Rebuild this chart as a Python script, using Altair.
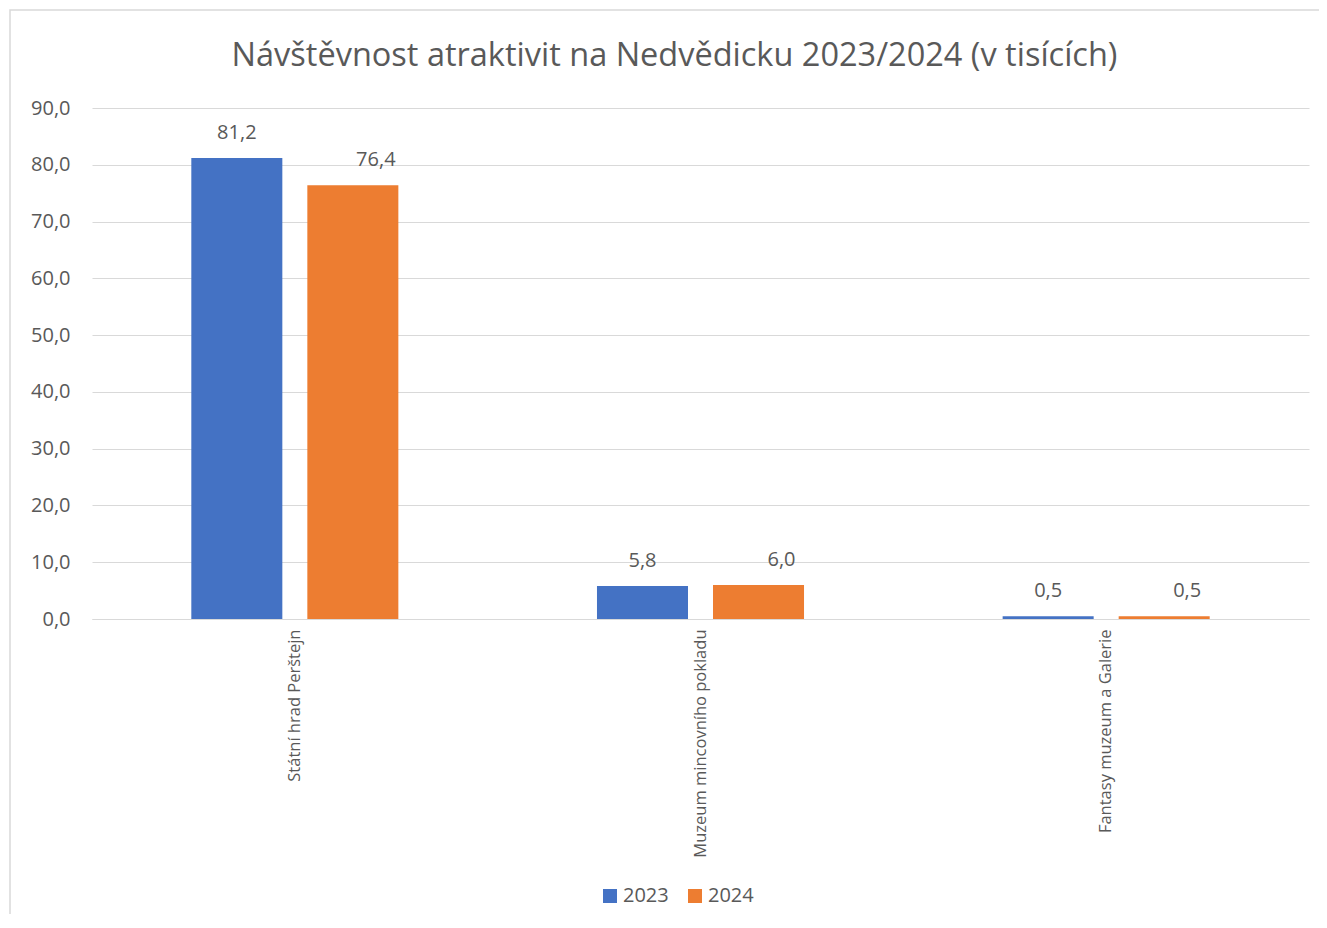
import altair as alt
import pandas as pd

categories = ["Státní hrad Perštejn", "Muzeum mincovního pokladu", "Fantasy muzeum a Galerie"]
years = ["2023", "2024"]
values_2023 = [81.2, 5.8, 0.5]
values_2024 = [76.4, 6.0, 0.5]
colors = ["#4472C4", "#ED7D31"]

rows = []
for c, v in zip(categories, values_2023):
    rows.append({"cat": c, "year": "2023", "value": v})
for c, v in zip(categories, values_2024):
    rows.append({"cat": c, "year": "2024", "value": v})
df = pd.DataFrame(rows)
df["label"] = df["value"].map(lambda v: f"{v:.1f}".replace(".", ","))

W, H = 1217, 511
FONT = "Open Sans"
GRAY = "#595959"

x_enc = alt.X("cat:N", sort=categories,
              scale=alt.Scale(paddingInner=0, paddingOuter=0),
              axis=alt.Axis(title=None, labelAngle=-90, labelFontSize=16.5, labelColor=GRAY,
                            labelFont=FONT, ticks=False, domain=True, domainColor="#d9d9d9",
                            labelPadding=10, labelLimit=400))
xo_enc = alt.XOffset("year:N", sort=years,
                     scale=alt.Scale(paddingInner=0.2155, paddingOuter=0.856))
y_enc = alt.Y("value:Q", scale=alt.Scale(domain=[0, 90], nice=False),
              axis=alt.Axis(title=None, values=list(range(0, 91, 10)),
                            labelExpr="replace(format(datum.value, '.1f'), '.', ',')",
                            labelFontSize=20, labelColor=GRAY, labelFont=FONT,
                            ticks=False, domain=False, grid=True, gridColor="#d9d9d9",
                            labelPadding=22))

base = alt.Chart(df)

bars = base.mark_bar().encode(
    x=x_enc, xOffset=xo_enc, y=y_enc,
    color=alt.Color("year:N", sort=years, scale=alt.Scale(domain=years, range=colors),
                    legend=alt.Legend(title=None, orient="none", legendX=508, legendY=778,
                                      direction="horizontal", symbolType="square",
                                      symbolSize=196, symbolStrokeWidth=0,
                                      labelFontSize=20, labelColor=GRAY, labelFont=FONT,
                                      columnPadding=16, labelOffset=3)),
)

text_common = dict(baseline="middle", align="center", fontSize=20, color=GRAY, font=FONT, dy=-25)
t1 = base.transform_filter(alt.datum.year == "2023").mark_text(**text_common).encode(
    x=alt.X("cat:N", sort=categories), xOffset=alt.XOffset("year:N", sort=years),
    y="value:Q", text="label:N")
t2 = base.transform_filter(alt.datum.year == "2024").mark_text(dx=23, **text_common).encode(
    x=alt.X("cat:N", sort=categories), xOffset=alt.XOffset("year:N", sort=years),
    y="value:Q", text="label:N")

border = alt.Chart(pd.DataFrame({"a": [0]})).mark_rect(
    fill=None, stroke="#d9d9d9", strokeWidth=1.5).encode(
    x=alt.value(-82), x2=alt.value(1260), y=alt.value(-98), y2=alt.value(860))

chart = alt.layer(border, bars, t1, t2).properties(
    width=W, height=H,
    title=alt.TitleParams("Návštěvnost atraktivit na Nedvědicku 2023/2024 (v tisících)",
                          anchor="middle", fontSize=32.5, color=GRAY, font=FONT,
                          fontWeight="normal", offset=-63, frame="group", dx=-26),
    autosize=alt.AutoSizeParams(type="none"),
    padding={"left": 84, "top": 100, "right": 10, "bottom": 295},
).configure_view(stroke=None)

chart.save("out.html", embed_options={"renderer": "svg", "actions": False})
